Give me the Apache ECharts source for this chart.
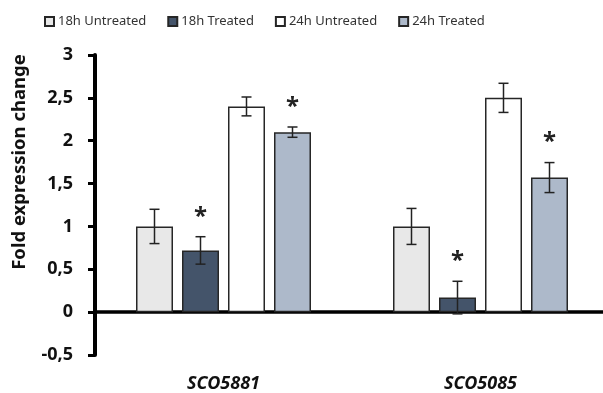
<!DOCTYPE html>
<html>
<head>
<meta charset="utf-8">
<script src="https://cdn.jsdelivr.net/npm/echarts@6/dist/echarts.min.js"></script>
<style>html,body{margin:0;padding:0;background:#fff}#c{width:603px;height:393px}</style>
</head>
<body>
<div id="c"></div>
<script>
const categories = ['SCO5881', 'SCO5085'];
const seriesNames = ['18h Untreated', '18h Treated', '24h Untreated', '24h Treated'];
const untreated18 = [1.00, 1.00];
const treated18 = [0.72, 0.17];
const untreated24 = [2.40, 2.50];
const treated24 = [2.10, 1.57];
const errUntreated18 = [0.20, 0.21];
const errTreated18 = [0.16, 0.19];
const errUntreated24 = [0.11, 0.17];
const errTreated24 = [0.06, 0.175];
const sigUntreated18 = [false, false];
const sigTreated18 = [true, true];
const sigUntreated24 = [false, false];
const sigTreated24 = [true, true];
const yTicks = { min: -0.5, max: 3, interval: 0.5 };

const values = [untreated18, treated18, untreated24, treated24];
const errs = [errUntreated18, errTreated18, errUntreated24, errTreated24];
const sigs = [sigUntreated18, sigTreated18, sigUntreated24, sigTreated24];
const colors = ['#e8e8e8', '#44546a', '#ffffff', '#adb9ca'];
const BAR_W = 37, BAR_GAP = 9;

const series = [];
values.forEach((vals, i) => {
  series.push({
    name: seriesNames[i],
    type: 'bar',
    data: vals,
    barWidth: BAR_W,
    barGap: (BAR_GAP / BAR_W * 100) + '%',
    itemStyle: { color: colors[i], borderColor: '#262626', borderWidth: 1.5 },
    z: 2
  });
});
values.forEach((vals, i) => {
  const offset = (i - 1.5) * (BAR_W + BAR_GAP);
  series.push({
    type: 'custom',
    name: seriesNames[i] + ' err',
    data: vals.map((v, k) => [k, v, errs[i][k], sigs[i][k] ? 1 : 0]),
    z: 5,
    silent: true,
    renderItem: function (params, api) {
      const k = api.value(0), v = api.value(1), e = api.value(2), s = api.value(3);
      const top = api.coord([k, v + e]);
      const bot = api.coord([k, v - e]);
      const x = top[0] + offset;
      const cap = 5;
      const st = { stroke: '#222', lineWidth: 1.5 };
      const children = [
        { type: 'line', shape: { x1: x, y1: top[1], x2: x, y2: bot[1] }, style: st },
        { type: 'line', shape: { x1: x - cap, y1: top[1], x2: x + cap, y2: top[1] }, style: st },
        { type: 'line', shape: { x1: x - cap, y1: bot[1], x2: x + cap, y2: bot[1] }, style: st }
      ];
      if (s) {
        children.push({
          type: 'text',
          style: { x: x, y: top[1] - 20, text: '*', fill: '#222', font: 'bold 24px "Noto Sans"', align: 'center', verticalAlign: 'middle' }
        });
      }
      return { type: 'group', children: children };
    }
  });
});

const chart = echarts.init(document.getElementById('c'));
chart.setOption({
  animation: false,
  backgroundColor: '#fff',
  grid: { left: 95, right: -6, top: 55, bottom: 38, outerBoundsMode: 'none', containLabel: false },
  legend: {
    data: seriesNames,
    left: 39, top: 10,
    icon: 'rect',
    itemWidth: 9, itemHeight: 9, itemGap: 21,
    textStyle: { fontFamily: 'Noto Sans', fontSize: 13, color: '#333', padding: [0, 0, 0, -1] }
  },
  xAxis: {
    type: 'category',
    data: categories,
    axisLine: { onZero: true, lineStyle: { color: '#000', width: 3.5 } },
    axisTick: { show: false },
    axisLabel: { margin: 20, fontFamily: 'Noto Sans', fontWeight: 'bold', fontStyle: 'italic', fontSize: 18, color: '#111' }
  },
  yAxis: {
    type: 'value',
    min: yTicks.min, max: yTicks.max, interval: yTicks.interval,
    splitLine: { show: false },
    axisLine: { show: true, lineStyle: { color: '#000', width: 4 } },
    axisTick: { show: true, length: 7, lineStyle: { color: '#000', width: 3 } },
    axisLabel: {
      margin: 22, fontFamily: 'Noto Sans', fontWeight: 'bold', fontSize: 18, color: '#111',
      formatter: v => String(v).replace('.', ',')
    }
  },
  graphic: [{
    type: 'text',
    x: 20, y: 162,
    rotation: Math.PI / 2,
    style: { text: 'Fold expression change', font: 'bold 18.5px "Noto Sans"', fill: '#111', align: 'center', verticalAlign: 'middle' }
  }],
  series: series
});
</script>
</body>
</html>
